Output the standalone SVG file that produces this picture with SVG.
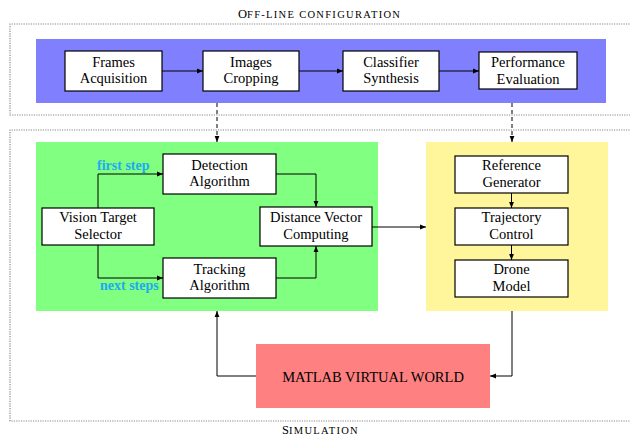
<svg xmlns="http://www.w3.org/2000/svg" width="630" height="436" viewBox="0 0 630 436">
<defs>
<marker id="ah" markerUnits="userSpaceOnUse" markerWidth="8" markerHeight="8" refX="6" refY="3" orient="auto">
<path d="M0,0.6 L6,3 L0,5.4 Z" fill="#000"/>
</marker>
<style>
text{font-family:"Liberation Serif","Times New Roman",serif;fill:#000}
.bt{font-size:14.5px;text-anchor:middle}
.box{fill:#fff;stroke:#000;stroke-width:1.2}
.frame{fill:none;stroke:#888;stroke-width:1.2;stroke-dasharray:1.2 1.2}
.c{fill:none;stroke:#000;stroke-width:1;marker-end:url(#ah)}
.d{stroke-dasharray:4 3}
.lab{font-size:14px;font-weight:bold;fill:#1eaaf0}
.sc{font-size:10.5px;letter-spacing:1.3px}
</style>
</defs>
<g id="offline-frame">
<path class="frame" d="M632,24 H10 V115 H632"/>
<text x="238" y="18"><tspan font-size="12.5">O</tspan><tspan class="sc">FF-LINE CONFIGURATION</tspan></text>
</g>
<g id="simulation-frame">
<path class="frame" d="M632,130 H10 V421 H632"/>
<text x="282" y="433.5"><tspan font-size="12.5">S</tspan><tspan class="sc">IMULATION</tspan></text>
</g>
<rect id="blue-panel" x="36" y="39" width="570" height="64" fill="#8080ff"/>
<rect id="green-panel" x="36" y="142" width="342" height="169" fill="#80ff80"/>
<rect id="yellow-panel" x="426" y="142" width="182" height="169" fill="#fff59a"/>
<g id="frames-acquisition"><rect class="box" x="65" y="51" width="97" height="40"/><text class="bt" x="113.5" y="66.5">Frames</text><text class="bt" x="113.5" y="83">Acquisition</text></g>
<g id="images-cropping"><rect class="box" x="203" y="51" width="96" height="40"/><text class="bt" x="251" y="66.5">Images</text><text class="bt" x="251" y="83">Cropping</text></g>
<g id="classifier-synthesis"><rect class="box" x="343" y="51" width="96" height="40"/><text class="bt" x="391" y="66.5">Classifier</text><text class="bt" x="391" y="83">Synthesis</text></g>
<g id="performance-evaluation"><rect class="box" x="479" y="52" width="98" height="37"/><text class="bt" x="528" y="67">Performance</text><text class="bt" x="528" y="83.5">Evaluation</text></g>
<g id="detection-algorithm"><rect class="box" x="163" y="154" width="113" height="40"/><text class="bt" x="219.5" y="169.5">Detection</text><text class="bt" x="219.5" y="186">Algorithm</text></g>
<g id="vision-target-selector"><rect class="box" x="42" y="208" width="112" height="37"/><text class="bt" x="98" y="222">Vision Target</text><text class="bt" x="98" y="238.5">Selector</text></g>
<g id="tracking-algorithm"><rect class="box" x="163" y="258" width="113" height="40"/><text class="bt" x="219.5" y="273.5">Tracking</text><text class="bt" x="219.5" y="290">Algorithm</text></g>
<g id="distance-vector-computing"><rect class="box" x="260" y="207" width="112" height="39"/><text class="bt" x="316" y="222">Distance Vector</text><text class="bt" x="316" y="238.5">Computing</text></g>
<g id="reference-generator"><rect class="box" x="455" y="156" width="113" height="37"/><text class="bt" x="511.5" y="170">Reference</text><text class="bt" x="511.5" y="186.5">Generator</text></g>
<g id="trajectory-control"><rect class="box" x="455" y="208" width="113" height="37"/><text class="bt" x="511.5" y="222">Trajectory</text><text class="bt" x="511.5" y="238.5">Control</text></g>
<g id="drone-model"><rect class="box" x="455" y="260" width="113" height="37"/><text class="bt" x="511.5" y="274">Drone</text><text class="bt" x="511.5" y="290.5">Model</text></g>
<g id="matlab-virtual-world"><rect x="256" y="344" width="234" height="64" fill="#ff8080"/><text class="bt" x="373" y="382">MATLAB VIRTUAL WORLD</text></g>
<g id="connectors">
<path class="c" d="M162,71 H203"/>
<path class="c" d="M299,71 H343"/>
<path class="c" d="M439,71 H479"/>
<path class="c d" d="M217,103 V142"/>
<path class="c d" d="M512,103 V142"/>
<path class="c" d="M98,208 V174 H163"/>
<path class="c" d="M98,245 V278 H163"/>
<path class="c" d="M276,174 H316 V207"/>
<path class="c" d="M276,278 H316 V246"/>
<path class="c" d="M372,227 H426"/>
<path class="c" d="M511.5,193 V208"/>
<path class="c" d="M511.5,245 V260"/>
<path class="c" d="M512,311 V376 H490"/>
<path class="c" d="M256,376 H217 V311"/>
<text class="lab" x="97" y="170">first step</text>
<text class="lab" x="100" y="290">next steps</text>
</g>
</svg>
